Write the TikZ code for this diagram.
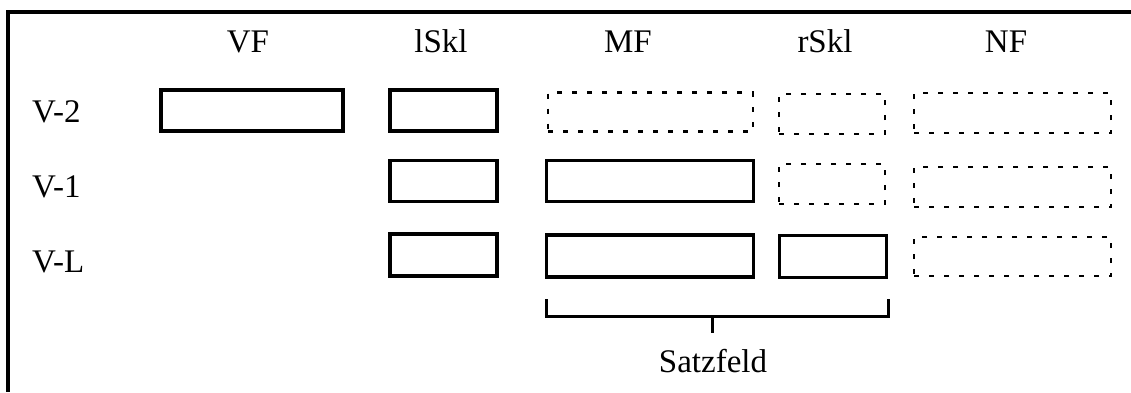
\documentclass[tikz,border=0pt]{standalone}
\usepackage{fontspec}
\setmainfont{Liberation Serif}
\begin{document}
\begin{tikzpicture}[x=1pt,y=-1pt,
  lbl/.style={font=\fontsize{33}{39}\selectfont, inner sep=0pt},
  field/.style={draw, line width=3.6pt, inner sep=0pt, outer sep=0pt},
  optfield/.style={draw, line width=2.8pt, dash pattern=on 5pt off 10pt, inner sep=0pt, outer sep=0pt},
  frameline/.style={line width=3.5pt},
  bracket/.style={line width=3pt}]
\useasboundingbox (0,0) rectangle (1131,392);

% frame (top and left)
\coordinate (ftl) at (8,12);
\coordinate (ftr) at (1131,12);
\coordinate (fbl) at (8,392);
\draw[frameline] (ftr) -- (ftl) -- (fbl);

% column headers
\node[lbl, anchor=base] (hVF)   at (248,52) {VF};
\node[lbl, anchor=base] (hlSkl) at (441,52) {lSkl};
\node[lbl, anchor=base] (hMF)   at (628,52) {MF};
\node[lbl, anchor=base] (hrSkl) at (825,52) {rSkl};
\node[lbl, anchor=base] (hNF)   at (1006,52) {NF};

% row labels
\node[lbl, anchor=base west] (rV2) at (32,122) {V-2};
\node[lbl, anchor=base west] (rV1) at (32,197) {V-1};
\node[lbl, anchor=base west] (rVL) at (32,272) {V-L};

% V-2 row
\node[field, minimum width=182pt, minimum height=41pt] (v2vf)   at (252,110.5) {};
\node[field, minimum width=107pt, minimum height=41pt] (v2lskl) at (443.5,110.5) {};
\node[optfield, minimum width=205pt, minimum height=39pt] (v2mf)   at (650.5,112) {};
\node[optfield, minimum width=106pt, minimum height=40pt] (v2rskl) at (832,114) {};
\node[optfield, minimum width=197pt, minimum height=40pt] (v2nf)   at (1012.5,113) {};

% V-1 row
\node[field, minimum width=107pt, minimum height=41pt] (v1lskl) at (443.5,181) {};
\node[field, minimum width=207pt, minimum height=41pt] (v1mf)   at (650,181) {};
\node[optfield, minimum width=106pt, minimum height=40pt] (v1rskl) at (832,184) {};
\node[optfield, minimum width=197pt, minimum height=40pt] (v1nf)   at (1012.5,187) {};

% V-L row
\node[field, minimum width=107pt, minimum height=42pt] (vllskl) at (443.5,255) {};
\node[field, minimum width=207pt, minimum height=42pt] (vlmf)   at (650,256) {};
\node[field, minimum width=107pt, minimum height=42pt] (vlrskl) at (833,256.5) {};
\node[optfield, minimum width=197pt, minimum height=39pt] (vlnf)   at (1012.5,256.5) {};

% bracket spanning MF and rSkl
\coordinate (bl) at (546,299);
\coordinate (br) at (888,299);
\coordinate (bll) at (546,316);
\coordinate (brl) at (888,316);
\coordinate (bm) at (712,316);
\coordinate (bt) at (712,333);
\draw[bracket] (bl) -- (bll) -- (brl) -- (br);
\draw[bracket] (bm) -- (bt);

\node[lbl, anchor=base] (satz) at (713,372) {Satzfeld};
\end{tikzpicture}
\end{document}
